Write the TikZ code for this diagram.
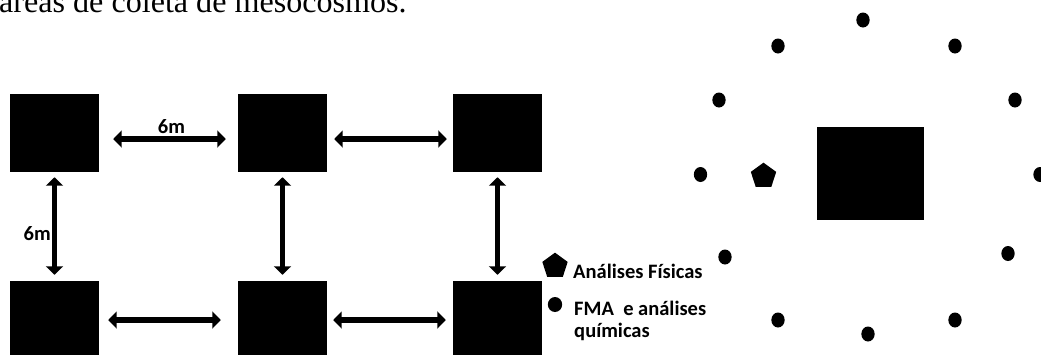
\documentclass[tikz,border=0pt]{standalone}
\usepackage{fontspec}
\setmainfont{Liberation Serif}
\newfontfamily\mesolabelfont{Carlito}
\usetikzlibrary{arrows.meta,positioning,shapes.geometric}
\definecolor{MesoInk}{RGB}{0,0,0}
\tikzset{
  meso/plot/.style={
    rectangle,
    fill=MesoInk,
    inner sep=0pt,
    minimum width=2.67cm,
    minimum height=2.34cm
  },
  meso/bigplot/.style={
    rectangle,
    fill=MesoInk,
    inner sep=0pt,
    minimum width=3.21cm,
    minimum height=2.79cm
  },
  meso/point/.style={ellipse, fill=MesoInk, inner sep=0pt, minimum width=0.4cm, minimum height=0.45cm},
  meso/pent/.style={regular polygon, regular polygon sides=5, fill=MesoInk, inner sep=0pt, minimum size=0.8cm},
  meso/arrow/.style={{Triangle[length=0.25cm,width=0.5cm]}-{Triangle[length=0.25cm,width=0.5cm]}, line width=0.17cm, draw=MesoInk},
  meso/label/.style={font=\mesolabelfont\bfseries\fontsize{17.5}{19}\selectfont, text=MesoInk, inner sep=0pt},
  meso/caption/.style={font=\fontsize{27.4}{30}\selectfont, text=MesoInk, inner sep=0pt}
}

\begin{document}
\begin{tikzpicture}[x=0.03cm,y=-0.03cm]
  \useasboundingbox (0,0) rectangle (1041,354);
  \clip (0,0) rectangle (1041,354);
  \node[meso/caption,anchor=base west] (cap) at (-1,12) {áreas de coleta de mesocosmos.};
  % grid of plots
  \node[meso/plot] (p1) at (54.5,133) {};
  \node[meso/plot] (p2) at (282.5,133) {};
  \node[meso/plot] (p3) at (497.5,133) {};
  \node[meso/plot] (p4) at (54.5,320) {};
  \node[meso/plot] (p5) at (282.5,320) {};
  \node[meso/plot] (p6) at (497.5,320) {};
  \draw[meso/arrow,shorten <=0.42cm,shorten >=0.36cm] ([yshift=-0.18cm]p1.east) -- ([yshift=-0.18cm]p2.west);
  \draw[meso/arrow,shorten <=0.21cm,shorten >=0.18cm] ([yshift=-0.18cm]p2.east) -- ([yshift=-0.18cm]p3.west);
  \draw[meso/arrow,shorten <=0.27cm,shorten >=0.51cm] (p4.east) -- (p5.west);
  \draw[meso/arrow,shorten <=0.18cm,shorten >=0.21cm] (p5.east) -- (p6.west);
  \draw[meso/arrow,shorten <=0.15cm,shorten >=0.18cm] (p1.south) -- (p4.north);
  \draw[meso/arrow,shorten <=0.15cm,shorten >=0.18cm] (p2.south) -- (p5.north);
  \draw[meso/arrow,shorten <=0.15cm,shorten >=0.18cm] (p3.south) -- (p6.north);
  \node[meso/label,anchor=base] (dist1) at (171.5,133) {6m};
  \node[meso/label,anchor=base east] (dist2) at (51,240) {6m};
  % legend
  \node[meso/pent] (legpent) at (555,266) {};
  \node[meso/point,minimum width=0.43cm] (legpoint) at (555,304.5) {};
  \node[meso/label,anchor=base west] (legfis) at (573,278) {Análises Físicas};
  \node[meso/label,anchor=base west] (legfma) at (574,315) {FMA~ e análises};
  \node[meso/label,anchor=base west] (legqui) at (574,337) {químicas};
  % single plot with sampling points
  \node[meso/bigplot] (big) at (870.5,173.5) {};
  \node[meso/pent] (pent) at (763.5,176) {};
  \foreach \px/\py [count=\i] in {863/20,778/46,955/46,719/100,1015/100,700.5/174.5,1040/174.5,725/257,1008/253.5,778/320,955/320,868/334}
    \node[meso/point] (pt\i) at (\px,\py) {};
\end{tikzpicture}
\end{document}
